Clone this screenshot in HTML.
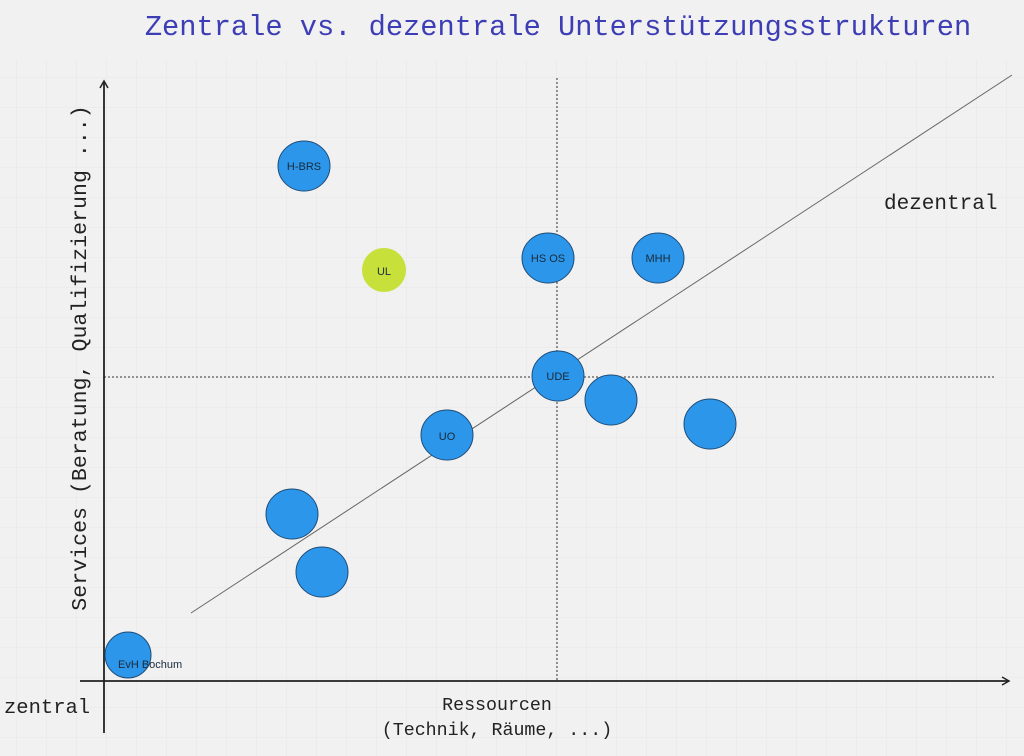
<!DOCTYPE html>
<html><head><meta charset="utf-8"><style>
html,body{margin:0;padding:0;background:#f1f1f1;}
svg{display:block}
.m{font-family:"Liberation Mono",monospace}
.s{font-family:"Liberation Sans",sans-serif;font-size:11px;fill:#1a2a3a}
</style></head><body>
<svg width="1024" height="756" viewBox="0 0 1024 756">
<defs>
<pattern id="g" width="30" height="30" patternUnits="userSpaceOnUse" x="16" y="17">
<path d="M0 0H30M0 0V30" stroke="#e7e7e7" stroke-width="1" fill="none"/>
</pattern>
<marker id="a" markerWidth="10" markerHeight="10" refX="8" refY="5" orient="auto" markerUnits="userSpaceOnUse">
<path d="M1 1L8 5L1 9" stroke="#222" stroke-width="1.5" fill="none"/>
</marker>
</defs>
<rect width="1024" height="756" fill="#f1f1f1"/>
<rect y="60" width="1024" height="696" fill="url(#g)"/>
<text x="558" y="35" class="m" font-size="28.7" fill="#3d3db5" text-anchor="middle">Zentrale vs. dezentrale Unterstützungsstrukturen</text>
<line x1="557" y1="78" x2="557" y2="681" stroke="#333" stroke-dasharray="2,2"/>
<line x1="104" y1="377" x2="995" y2="377" stroke="#333" stroke-dasharray="2,2"/>
<line x1="191" y1="613" x2="1012" y2="75" stroke="#666" stroke-width="1"/>
<line x1="104" y1="733" x2="104" y2="81" stroke="#222" stroke-width="1.8" marker-end="url(#a)"/>
<line x1="80" y1="681" x2="1009" y2="681" stroke="#222" stroke-width="1.8" marker-end="url(#a)"/>
<text transform="translate(86,358) rotate(-90)" class="m" font-size="21.6" fill="#222" text-anchor="middle">Services (Beratung, Qualifizierung ...)</text>
<text x="497" y="710" class="m" font-size="18.3" fill="#222" text-anchor="middle">Ressourcen</text>
<text x="497" y="735" class="m" font-size="18.3" fill="#222" text-anchor="middle">(Technik, Räume, ...)</text>
<text x="4" y="713" class="m" font-size="20.5" fill="#222">zentral</text>
<text x="884" y="209" class="m" font-size="21" fill="#222">dezentral</text>
<g fill="#2b96ea" stroke="#1f4c78" stroke-width="1">
<ellipse cx="304" cy="166" rx="26" ry="25"/>
<ellipse cx="548" cy="258" rx="26" ry="25"/>
<ellipse cx="658" cy="258" rx="26" ry="25"/>
<ellipse cx="558" cy="376" rx="26" ry="25"/>
<ellipse cx="611" cy="400" rx="26" ry="25"/>
<ellipse cx="710" cy="424" rx="26" ry="25"/>
<ellipse cx="447" cy="435" rx="26" ry="25"/>
<ellipse cx="292" cy="514" rx="26" ry="25"/>
<ellipse cx="322" cy="572" rx="26" ry="25"/>
<ellipse cx="128" cy="655" rx="23" ry="23"/>
</g>
<circle cx="384" cy="270" r="22" fill="#c8e03a"/>
<text x="304" y="170" class="s" text-anchor="middle">H-BRS</text>
<text x="548" y="262" class="s" text-anchor="middle">HS OS</text>
<text x="658" y="262" class="s" text-anchor="middle">MHH</text>
<text x="558" y="380" class="s" text-anchor="middle">UDE</text>
<text x="447" y="440" class="s" font-size="13" text-anchor="middle">UO</text>
<text x="384" y="275" class="s" font-size="14" text-anchor="middle">UL</text>
<text x="118" y="668" class="s" font-size="10">EvH Bochum</text>
</svg>
</body></html>
